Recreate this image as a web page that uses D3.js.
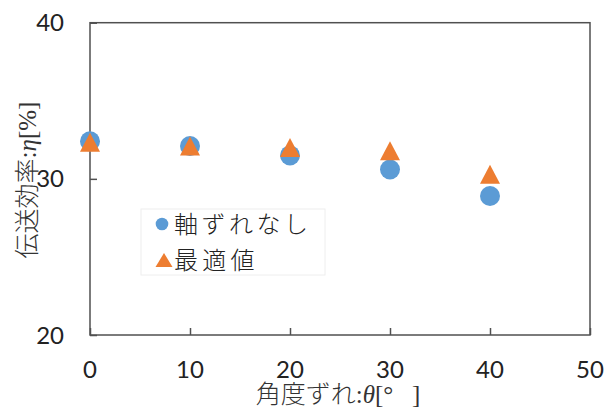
<!DOCTYPE html>
<html>
<head>
<meta charset="utf-8">
<script src="https://cdn.jsdelivr.net/npm/d3@7/dist/d3.min.js"></script>
<style>
  html, body { margin: 0; padding: 0; background: #fff; }
  svg { display: block; }
  .jp { font-family: "Noto Sans CJK JP", sans-serif; font-weight: 300; }
  .latin { font-family: "Liberation Serif", serif; }
</style>
</head>
<body>
<svg id="chart" width="614" height="409"></svg>
<script>
// Transmission efficiency vs. angular misalignment
const angles = [0, 10, 20, 30, 40];
const noShift = [32.4, 32.1, 31.5, 30.6, 28.9];   // 軸ずれなし
const optimal = [32.35, 32.1, 32.0, 31.8, 30.3];  // 最適値
const xTicks = [0, 10, 20, 30, 40, 50];
const yTicks = [20, 30, 40];
const legendLabels = ["軸ずれなし", "最適値"];

const blue = "#5B9BD5", orange = "#ED7D31", axisColor = "#505050";

const svg = d3.select("#chart");
svg.append("rect").attr("width", 614).attr("height", 409).attr("fill", "#fff");

const plot = { left: 90, right: 590, top: 22.7, bottom: 335 };
const x = d3.scaleLinear().domain([0, 50]).range([plot.left, plot.right]);
const y = d3.scaleLinear().domain([20, 40]).range([plot.bottom, plot.top]);

// Frame
svg.append("rect")
  .attr("x", plot.left).attr("y", plot.top)
  .attr("width", plot.right - plot.left).attr("height", plot.bottom - plot.top)
  .attr("fill", "none").attr("stroke", axisColor).attr("stroke-width", 1.5);

// Inward ticks
const xAxis = d3.axisTop(x).tickValues(xTicks).tickSize(7).tickFormat("");
svg.append("g").attr("transform", `translate(0,${plot.bottom})`).call(xAxis)
  .call(g => g.select(".domain").remove())
  .call(g => g.selectAll("line").attr("stroke", axisColor).attr("stroke-width", 1.5));
const yAxis = d3.axisRight(y).tickValues(yTicks).tickSize(7).tickFormat("");
svg.append("g").attr("transform", `translate(${plot.left},0)`).call(yAxis)
  .call(g => g.select(".domain").remove())
  .call(g => g.selectAll("line").attr("stroke", axisColor).attr("stroke-width", 1.5));

// Tick labels
svg.append("g").selectAll("text").data(xTicks).join("text")
  .attr("x", d => x(d)).attr("y", 378)
  .attr("text-anchor", "middle")
  .attr("font-family", "Lato, sans-serif").attr("font-size", 24).attr("fill", "#222")
  .text(d => d);
svg.append("g").selectAll("text").data(yTicks).join("text")
  .attr("x", 64).attr("y", d => y(d)).attr("dy", "0.36em")
  .attr("text-anchor", "end")
  .attr("font-family", "Lato, sans-serif").attr("font-size", 24).attr("fill", "#222")
  .text(d => d);

// Markers
const pts = angles.map((a, i) => ({ a, c: noShift[i], t: optimal[i] }));
svg.append("g").selectAll("circle").data(pts).join("circle")
  .attr("cx", d => x(d.a)).attr("cy", d => y(d.c)).attr("r", 10)
  .attr("fill", blue);
const tri = (cx, cy, w, h) => `M${cx},${cy - h / 2}L${cx + w / 2},${cy + h / 2}L${cx - w / 2},${cy + h / 2}Z`;
svg.append("g").selectAll("path").data(pts).join("path")
  .attr("d", d => tri(x(d.a), y(d.t), 20, 19))
  .attr("fill", orange);

// Legend
const lg = svg.append("g");
lg.append("rect").attr("x", 141).attr("y", 209).attr("width", 184).attr("height", 66)
  .attr("fill", "#fff").attr("stroke", "#eeeeee").attr("stroke-width", 1);
lg.append("circle").attr("cx", 162).attr("cy", 224).attr("r", 6.3).attr("fill", blue);
lg.append("path").attr("d", tri(164, 260, 17, 14)).attr("fill", orange);
lg.selectAll("text").data(legendLabels).join("text")
  .attr("class", "jp")
  .attr("x", 174).attr("y", (d, i) => 224 + i * 36).attr("dy", "0.36em")
  .attr("font-size", 24).attr("fill", "#222")
  .attr("textLength", d => d.length * 26.8).attr("lengthAdjust", "spacing")
  .text(d => d);

// Axis titles
const xt = svg.append("text").attr("x", 338).attr("y", 403)
  .attr("text-anchor", "middle").attr("font-size", 25).attr("fill", "#333")
  .style("white-space", "pre");
xt.append("tspan").attr("class", "jp").text("角度ずれ");
xt.append("tspan").attr("class", "latin").text(":");
xt.append("tspan").attr("class", "latin").attr("font-style", "italic").text("θ");
xt.append("tspan").attr("class", "latin").text("[°   ]");

const yt = svg.append("text").attr("transform", "translate(36,180) rotate(-90)")
  .attr("text-anchor", "middle").attr("font-size", 25).attr("fill", "#333");
yt.append("tspan").attr("class", "jp").text("伝送効率");
yt.append("tspan").attr("class", "latin").text(":");
yt.append("tspan").attr("class", "latin").attr("font-style", "italic").text("η");
yt.append("tspan").attr("class", "latin").text("[%]");
</script>
</body>
</html>
